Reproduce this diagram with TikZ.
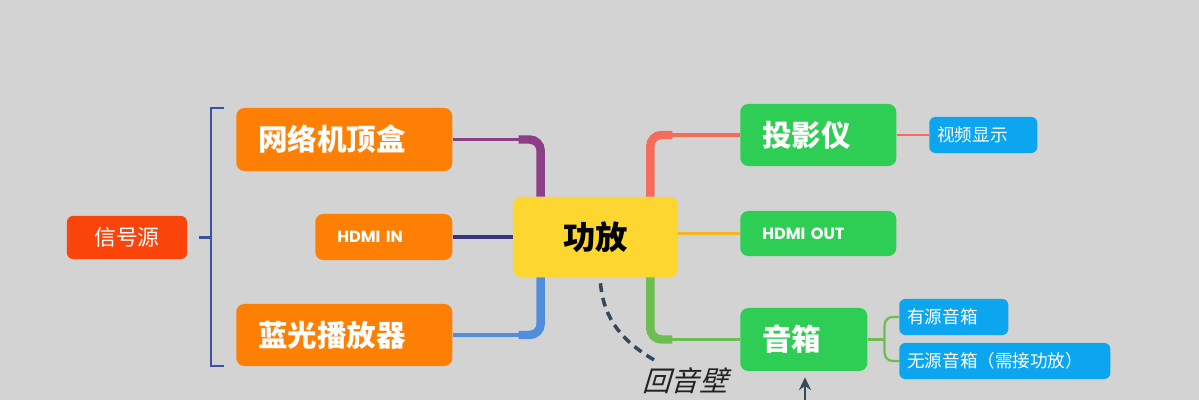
\documentclass[tikz,border=0pt]{standalone}
\usepackage{fontspec}
\usepackage{tikz}
\usetikzlibrary{positioning,arrows.meta,calc}
\newfontfamily\cjk{Noto Sans CJK SC}
\newfontfamily\cjkslant[FakeSlant=0.3]{Noto Sans CJK SC}
\newfontfamily\lat{Poppins}

\definecolor{bggray}{RGB}{211,211,211}
\definecolor{srcred}{RGB}{250,68,10}
\definecolor{srcorange}{RGB}{253,128,4}
\definecolor{ampyellow}{RGB}{254,214,48}
\definecolor{outgreen}{RGB}{46,206,84}
\definecolor{leafblue}{RGB}{12,166,240}
\definecolor{bracenavy}{RGB}{60,82,170}
\definecolor{netpurple}{RGB}{140,62,135}
\definecolor{innavy}{RGB}{58,50,130}
\definecolor{bluray}{RGB}{80,142,220}
\definecolor{projsalmon}{RGB}{245,108,90}
\definecolor{outamber}{RGB}{246,180,40}
\definecolor{spkgreen}{RGB}{108,190,80}
\definecolor{slate}{RGB}{52,72,94}
\definecolor{inkdark}{RGB}{34,34,34}

\tikzset{
    x=0.025cm,
    y=-0.025cm,
    root/.style = {
        shape=rectangle,
        fill=srcred,
        rounded corners=0.15cm,
        text=white,
        minimum width=3cm,
        minimum height=1.075cm,
        font=\cjk\fontsize{15.5}{16}\selectfont
    },
    hub/.style = {
        shape=rectangle,
        fill=ampyellow,
        rounded corners=0.2cm,
        text=black,
        minimum width=4.125cm,
        minimum height=2cm,
        font=\cjk\bfseries\fontsize{23}{24}\selectfont
    },
    topic/.style = {
        shape=rectangle,
        anchor=west,
        rounded corners=0.2cm,
        text=white,
        align=left,
        inner xsep=0.55cm,
        font=\cjk\bfseries\fontsize{21}{22}\selectfont
    },
    tag/.style = {
        topic,
        font=\lat\bfseries\fontsize{11.5}{12}\selectfont
    },
    leaf/.style = {
        shape=rectangle,
        anchor=west,
        fill=leafblue,
        rounded corners=0.15cm,
        text=white,
        align=left,
        inner xsep=0.2cm,
        minimum height=0.9cm,
        font=\cjk\fontsize{12.5}{13}\selectfont
    },
    twig/.style = {line width=2.5pt},
    trunk/.style = {line width=6pt, rounded corners=0.28cm},
    brace/.style = {line width=1.5pt, color=bracenavy},
    wall/.style = {line width=2.5pt, color=slate},
    >={Stealth[length=0.32cm,width=0.3cm]},
}

\begin{document}
\begin{tikzpicture}
    \path[use as bounding box, fill=bggray] (0,0) rectangle (1199,400);

    \node[root] (src) at (127,237.5) {信号源};
    \node[topic, fill=srcorange, text width=4.3cm, minimum height=1.575cm] (net) at (236,139.5) {网络机顶盒};
    \node[tag, fill=srcorange, text width=2.325cm, minimum height=1.15cm] (hdmiin) at (315,237) {HDMI IN};
    \node[topic, fill=srcorange, text width=4.3cm, minimum height=1.55cm] (blu) at (236,335) {蓝光播放器};
    \node[hub] (amp) at (595.5,237) {功放};
    \node[topic, fill=outgreen, text width=2.8cm, minimum height=1.55cm] (proj) at (740,135) {投影仪};
    \node[tag, fill=outgreen, text width=2.8cm, minimum height=1.125cm] (hdmiout) at (740,233.5) {HDMI OUT};
    \node[topic, fill=outgreen, text width=2.075cm, minimum height=1.575cm] (spk) at (740,339.5) {音箱};
    \node[leaf, text width=2.3cm] (vid) at (929,135) {视频显示};
    \node[leaf, text width=2.325cm] (active) at (899,317) {有源音箱};
    \node[leaf, text width=4.875cm] (passive) at (899,361) {无源音箱（需接功放）};
    \node[text=inkdark, font=\cjkslant\fontsize{20}{21}\selectfont] (echo) at (685,381) {回音壁};

    \coordinate (brk) at ($(net.north west)+(-25,0)$);
    \coordinate (ja) at ($(amp.north west)+(28,0)$);
    \coordinate (jb) at ($(amp.south west)+(28,0)$);
    \coordinate (jc) at ($(amp.north east)+(-28,0)$);
    \coordinate (jd) at ($(amp.south east)+(-28,0)$);
    \coordinate (sb) at ($(spk.east)+(17,0)$);
    \coordinate (foot) at (805,400);

    % signal sources
    \path[draw, brace] ($(net.north west)+(-12,0)$) -| (brk) |- ($(blu.south west)+(-12,0)$);
    \path[draw, brace] ($(src.east)+(12,0)$) -- (src.east -| brk);

    \path[draw, twig, color=netpurple] (net.east) -- ($(net.east -| ja)+(-22,0)$);
    \path[draw, trunk, color=netpurple] ($(net.east -| ja)+(-22,0)$) -| (ja);
    \path[draw, twig, color=innavy] (hdmiin.east) -- (amp.west);
    \path[draw, twig, color=bluray] (blu.east) -- ($(blu.east -| jb)+(-22,0)$);
    \path[draw, trunk, color=bluray] ($(blu.east -| jb)+(-22,0)$) -| (jb);

    % outputs
    \path[draw, trunk, color=projsalmon] (jc) |- ($(proj.west -| jc)+(22,0)$);
    \path[draw, twig, color=projsalmon] ($(proj.west -| jc)+(22,0)$) -- (proj.west);
    \path[draw, twig, color=outamber] (hdmiout.west -| amp.east) -- (hdmiout.west);
    \path[draw, trunk, color=spkgreen] (jd) |- ($(spk.west -| jd)+(22,0)$);
    \path[draw, twig, color=spkgreen] ($(spk.west -| jd)+(22,0)$) -- (spk.west);

    \path[draw, line width=1.6pt, color=projsalmon] (proj.east) -- (vid.west);
    \path[draw, line width=1.6pt, color=spkgreen] (spk.east) -- (sb);
    \path[draw, line width=1.6pt, color=spkgreen, rounded corners=0.2cm] (sb) |- (active.west);
    \path[draw, line width=1.6pt, color=spkgreen, rounded corners=0.2cm] (sb) |- (passive.west);

    % echo wall
    \path[draw, wall, dash pattern=on 0.22cm off 0.15cm] ($(amp.south)+(5,6)$) to[out=-85, in=150] ($(echo.north west)+(18,-2)$);
    \path[draw, ->, line width=2pt, color=slate, shorten >=0.15cm] (foot) -- (spk.south -| foot);
\end{tikzpicture}
\end{document}
